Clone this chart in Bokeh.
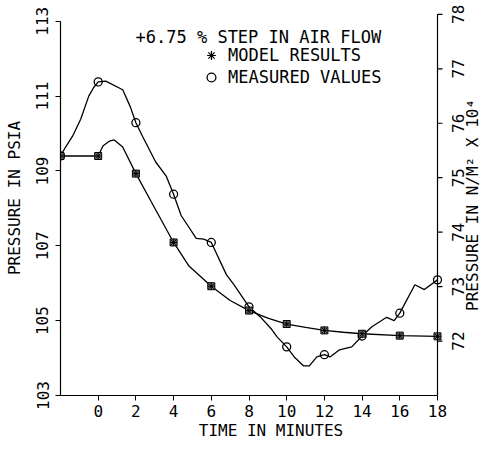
import math
from bokeh.plotting import figure
from bokeh.models import Range1d, FixedTicker, Label, Legend, LegendItem
from bokeh.embed import file_html
from bokeh.resources import INLINE

FONT = "DejaVu Sans Mono"
FS = "16px"
FS_BIG = "17px"

# ---- data ----
time_ticks = [0, 2, 4, 6, 8, 10, 12, 14, 16, 18]
psi_ticks = [103, 105, 107, 109, 111, 113]
nm_ticks = [72, 73, 74, 75, 76, 77, 78]

model_t = [-2, 0, 2, 4, 6, 8, 10, 12, 14, 16, 18]
model_p = [109.4, 109.4, 108.93, 107.09, 105.92, 105.27, 104.91, 104.74, 104.65, 104.60, 104.58]

model_curve_t = [-2, 0, 0.25, 0.6, 0.85, 1.3, 2, 2.8, 4, 4.8, 6, 7, 8, 9, 10, 11, 12, 13, 14, 16, 18]
model_curve_p = [109.4, 109.4, 109.67, 109.8, 109.83, 109.64, 108.93, 108.19, 107.09, 106.47,
                 105.92, 105.54, 105.27, 105.07, 104.91, 104.82, 104.74, 104.69, 104.65, 104.60, 104.58]

meas_t = [-2, 0, 2, 4, 6, 8, 10, 12, 14, 16, 18]
meas_p = [109.4, 111.38, 110.29, 108.38, 107.09, 105.37, 104.30, 104.09, 104.59, 105.20, 106.09]

meas_curve_t = [-2, -1.73, -1.36, -0.93, -0.5, -0.24, 0, 0.4, 1.3, 1.7, 2.0, 2.35, 3.05, 3.6,
                4.0, 4.4, 5.2, 5.6, 6.0, 6.8, 7.2, 8.0, 8.6, 9.2, 9.5, 10.0, 10.4, 10.9, 11.2,
                11.6, 12.0, 12.3, 12.8, 13.45, 14.0, 14.5, 15.3, 15.7, 16.0, 16.8, 17.3, 18.0]
meas_curve_p = [109.4, 109.64, 109.93, 110.38, 111.0, 111.23, 111.38, 111.4, 111.17, 110.72,
                110.29, 109.93, 109.24, 108.87, 108.38, 107.81, 107.2, 107.18, 107.09, 106.23,
                105.96, 105.37, 105.1, 104.77, 104.56, 104.30, 104.03, 103.79, 103.79, 104.03,
                104.09, 104.03, 104.22, 104.30, 104.59, 104.83, 105.09, 105.0, 105.2, 105.96,
                105.83, 106.09]

title_text = "+6.75 % STEP IN AIR FLOW"
legend_labels = ["MODEL RESULTS", "MEASURED VALUES"]
x_title = "TIME IN MINUTES"
y_title = "PRESSURE IN PSIA"
y2_title = "PRESSURE IN N/M\u00b2 X 10\u2074"

# ---- layout constants (pixels) ----
T_START, T_END = -2, 18
PSI_MIN, PSI_MAX = 103, 113
NM_MIN, NM_MAX = 71, 78
W, H = 481, 442
LEFT, BOTTOM = 60, 43
PLOT_W = 377                   # pixels between the left and right axes
FRAME_H = H - BOTTOM           # frame reaches the top of the canvas
PSI_PX = 37.8                  # pixels per psia
NM_PX = 55.0                   # pixels per 10^4 N/m^2
X_END = T_END + (W - LEFT - PLOT_W) * (T_END - T_START) / PLOT_W
PSI_END = PSI_MIN + FRAME_H / PSI_PX
NM_END = NM_MIN + FRAME_H / NM_PX

# ---- figure ----
p = figure(width=W, height=H, output_backend="svg", toolbar_location=None,
           x_range=Range1d(T_START, X_END), y_range=Range1d(PSI_MIN, PSI_END),
           min_border_left=LEFT, min_border_right=0, min_border_top=0,
           min_border_bottom=BOTTOM)
p.extra_y_ranges = {"nm": Range1d(NM_MIN, NM_END)}
p.outline_line_color = None
p.xgrid.visible = False
p.ygrid.visible = False
p.background_fill_color = "white"
p.border_fill_color = "white"


def style_axis(ax):
    ax.axis_line_color = "black"
    ax.axis_line_width = 1.2
    ax.major_tick_line_color = "black"
    ax.major_tick_out = 5
    ax.major_tick_in = 0
    ax.minor_tick_line_color = None
    ax.major_label_text_font = FONT
    ax.major_label_text_font_size = FS
    ax.major_label_text_color = "black"
    ax.axis_label_text_font = FONT
    ax.axis_label_text_font_size = FS
    ax.axis_label_text_font_style = "normal"
    ax.axis_label_text_color = "black"


xa = p.xaxis[0]
ya = p.yaxis[0]
style_axis(xa)
style_axis(ya)

xa.ticker = FixedTicker(ticks=time_ticks)
xa.bounds = (T_START, T_END)
xa.axis_label = x_title
xa.major_label_standoff = 4
xa.axis_label_standoff = 1

ya.ticker = FixedTicker(ticks=psi_ticks)
ya.bounds = (PSI_MIN, PSI_MAX)
ya.axis_label = y_title
ya.major_label_orientation = "parallel"
ya.major_label_standoff = 7
ya.axis_label_standoff = 10

# ---- right axis (N/m^2 x 10^4) drawn inside the extended frame ----
p.line([T_END, T_END], [NM_MIN, NM_MAX], line_color="black", line_width=1.2, y_range_name="nm")
p.ray(x=[T_END] * len(nm_ticks), y=nm_ticks, length=5, length_units="screen", angle=0,
      line_color="black", line_width=1.2, y_range_name="nm")
for v in nm_ticks:
    p.add_layout(Label(x=T_END, y=v, y_range_name="nm", x_offset=20, text=str(v),
                       angle=math.pi / 2, text_align="center", text_baseline="middle",
                       text_font=FONT, text_font_size=FS, text_color="black"))
p.add_layout(Label(x=T_END, y=(NM_MIN + NM_MAX) / 2, y_range_name="nm", x_offset=35,
                   text=y2_title, angle=math.pi / 2, text_align="center",
                   text_baseline="middle", text_font=FONT, text_font_size=FS,
                   text_color="black"))

# ---- curves (psia) ----
p.line(model_curve_t, model_curve_p, line_color="black", line_width=1.3)
p.line(meas_curve_t, meas_curve_p, line_color="black", line_width=1.3)

p.scatter(meas_t, meas_p, marker="circle", size=8, fill_color="white", fill_alpha=0.0,
          line_color="black", line_width=1.3)
p.scatter(model_t, model_p, marker="square", size=7, fill_color="#777777",
          line_color="black", line_width=1)
p.scatter(model_t, model_p, marker="asterisk", size=7, line_color="black", line_width=1)

# hidden renderers only used for the legend symbols
leg_ast = p.scatter(model_t, model_p, marker="asterisk", size=11, line_color="black",
                    line_width=1.2, visible=False)
leg_circ = p.scatter(meas_t, meas_p, marker="circle", size=10, fill_alpha=0.0,
                     line_color="black", line_width=1.3, visible=False)

legend = Legend(items=[LegendItem(label=legend_labels[0], renderers=[leg_ast]),
                       LegendItem(label=legend_labels[1], renderers=[leg_circ])],
                location=(138, 307), padding=0, margin=0, spacing=0,
                glyph_width=26, glyph_height=22, label_standoff=4,
                label_text_font=FONT, label_text_font_size=FS_BIG, label_text_color="black",
                border_line_color=None, background_fill_alpha=0)
p.add_layout(legend, "center")

p.add_layout(Label(x=1.98, y=112.58, text=title_text, text_font=FONT, text_font_size=FS_BIG,
                   text_color="black", text_baseline="middle", text_align="left"))

open("out.html", "w").write(file_html(p, INLINE))
